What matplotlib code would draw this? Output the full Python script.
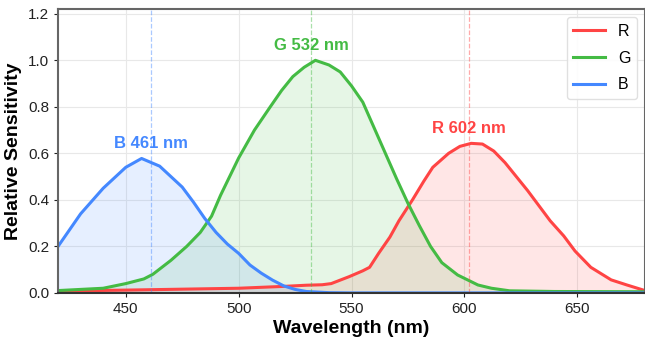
import numpy as np
import matplotlib
matplotlib.use('Agg')
import matplotlib.pyplot as plt

plt.rcParams['font.family'] = ['Liberation Sans', 'DejaVu Sans']

# Spectral sensitivity data (nm, relative value)
wl_b = [420, 430, 440, 450, 457, 465, 470, 475, 480, 485, 490, 495, 500,
        505, 510, 515, 520, 525, 530, 540, 550, 600, 680]
val_b = [0.20, 0.34, 0.45, 0.54, 0.578, 0.545, 0.50, 0.455, 0.39, 0.32, 0.26,
         0.21, 0.17, 0.12, 0.085, 0.055, 0.03, 0.015, 0.006, 0.001, 0.0, 0.0, 0.0]

wl_g = [420, 440, 450, 458, 462, 470, 477, 483, 488, 492, 500, 507, 514, 519,
        524, 529, 534, 540, 545, 550, 555, 560, 565, 570, 575, 580, 585, 590,
        597, 606, 612, 620, 640, 680]
val_g = [0.01, 0.02, 0.04, 0.06, 0.08, 0.14, 0.20, 0.26, 0.33, 0.42, 0.58,
         0.70, 0.80, 0.87, 0.93, 0.97, 1.0, 0.98, 0.95, 0.89, 0.82, 0.71,
         0.60, 0.49, 0.385, 0.29, 0.20, 0.13, 0.077, 0.034, 0.02, 0.009,
         0.006, 0.005]

wl_r = [420, 450, 500, 520, 530, 537, 541, 549, 555, 558, 562, 567, 571,
        577, 582, 586, 593, 598, 603, 608, 613, 618, 623, 628, 633, 638,
        644, 649, 656, 665, 672, 680]
val_r = [0.008, 0.012, 0.02, 0.028, 0.033, 0.035, 0.04, 0.07, 0.095, 0.11,
         0.17, 0.24, 0.31, 0.40, 0.48, 0.54, 0.60, 0.63, 0.643, 0.64, 0.61,
         0.56, 0.50, 0.44, 0.375, 0.31, 0.245, 0.18, 0.11, 0.056, 0.034, 0.01]

names = ['R', 'G', 'B']
peaks = [602, 532, 461]
peak_vals = [0.643, 1.0, 0.578]
colors = ['#ff4444', '#44bb44', '#4488ff']

fig = plt.figure(figsize=(6.45, 3.39), dpi=100)
ax = fig.add_axes([0.09, 0.136, 0.91, 0.837])

curves = [(wl_r, val_r), (wl_g, val_g), (wl_b, val_b)]
for (wl, val), name, c in zip(curves, names, colors):
    ax.fill_between(wl, val, 0, color=c, alpha=0.13, linewidth=0)
    ax.plot(wl, val, color=c, linewidth=2.2, label=name)

for name, pk, pv, c in zip(names, peaks, peak_vals, colors):
    ax.axvline(pk, color=c, linestyle='--', linewidth=0.9, alpha=0.45)
    ax.text(pk, pv + 0.065, "%s %d nm" % (name, pk), color=c,
            fontsize=12, fontweight='bold', ha='center', va='center')

ax.set_xlim(420, 680)
ax.set_ylim(0, 1.22)
ax.set_xticks([450, 500, 550, 600, 650])
ax.set_yticks([0.0, 0.2, 0.4, 0.6, 0.8, 1.0, 1.2])
ax.grid(True, color='#e8e8e8', linewidth=0.8)
ax.set_axisbelow(True)
ax.tick_params(labelsize=11, colors='#222222', length=3)
ax.set_xlabel('Wavelength (nm)', fontsize=14, fontweight='bold', labelpad=3)
ax.set_ylabel('Relative Sensitivity', fontsize=14, fontweight='bold', labelpad=4)

for s in ['top', 'left', 'bottom', 'right']:
    ax.spines[s].set_color('#666666')
    ax.spines[s].set_linewidth(1.5)
ax.spines['bottom'].set_color('#333333')

ax.legend(loc='upper right', fontsize=11.5, handlelength=2.0, labelspacing=0.75,
          framealpha=0.9, edgecolor='#dddddd')

fig.savefig('out.png', dpi=100)
